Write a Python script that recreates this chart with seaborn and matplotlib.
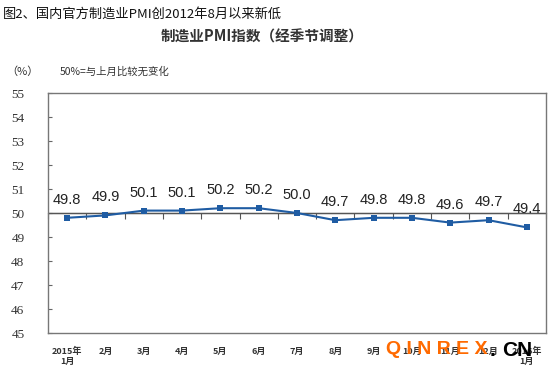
import matplotlib
matplotlib.use('Agg')
import matplotlib.pyplot as plt
import numpy as np
import pandas as pd
import seaborn as sns

months = ['2015年\n1月', '2月', '3月', '4月', '5月', '6月', '7月',
          '8月', '9月', '10月', '11月', '12月', '2016年\n1月']
pmi = [49.8, 49.9, 50.1, 50.1, 50.2, 50.2, 50.0, 49.7, 49.8, 49.8, 49.6, 49.7, 49.4]
y_ticks = [45, 46, 47, 48, 49, 50, 51, 52, 53, 54, 55]

df = pd.DataFrame({'idx': range(len(months)), 'pmi': pmi})

sns.set_style('white')
plt.rcParams['font.family'] = ['Noto Sans CJK SC', 'DejaVu Sans']
line_c = '#1f5ca3'

fig = plt.figure(figsize=(5.55, 3.72), dpi=100)
ax = fig.add_axes([48/555, 39/372, 498/555, 240/372])

sns.lineplot(data=df, x='idx', y='pmi', ax=ax, color=line_c, lw=1.5,
             marker='s', markersize=4.5, markeredgewidth=0, zorder=3)

for i, v in enumerate(pmi):
    ax.annotate(f'{v:.1f}', (i, v), xytext=(0, 14), textcoords='offset pixels',
                ha='center', va='baseline', fontsize=10.5, family='Liberation Sans',
                color='#222222')

ax.axhline(50, color='#555555', lw=1, zorder=1)
ax.set_xlim(-0.5, len(months) - 0.5)
ax.set_ylim(45, 55)
ax.set_yticks(y_ticks)
ax.set_yticklabels([str(t) for t in y_ticks], family='Liberation Serif', fontsize=9.5,
                   color='#333333')
ax.set_xticks(range(len(months)))
ax.set_xticklabels(months, fontsize=6.5, fontweight='bold', color='#333333', linespacing=1.1)
ax.tick_params(axis='x', length=0, pad=10)
ax.tick_params(axis='y', length=3, width=0.8, color='#666666', direction='in', pad=17, left=True)
ax.set_xlabel('')
ax.set_ylabel('')
for s in ax.spines.values():
    s.set_color('#777777')
    s.set_linewidth(1)

# tick marks between months on the 50 line
sec = ax.secondary_xaxis(0.5)
sec.set_xticks(np.arange(-0.5, len(months)), labels=[])
sec.tick_params(direction='in', length=4, width=0.8, color='#555555')
sec.spines['bottom'].set_visible(False)

fig.text(3/555, 1 - 14/372, '图2、国内官方制造业PMI创2012年8月以来新低', fontsize=9.5,
         va='center', ha='left', color='#111111')
fig.text(262/555, 1 - 37/372, '制造业PMI指数（经季节调整）', fontsize=10.5,
         fontweight='bold', va='center', ha='center', color='#333333')
fig.text(6/555, 1 - 72/372, '（%）', fontsize=8, va='center', ha='left', color='#333333')
fig.text(60/555, 1 - 72/372, '50%=与上月比较无变化', fontsize=7.5, va='center', ha='left',
         color='#333333')

# watermark
fig.text(386/555, 1 - 350/372, 'Q I N R E X', fontsize=14, fontweight='bold',
         family='Liberation Sans', color='#ff6a00', va='center', ha='left', zorder=5)
fig.text(490/555, 1 - 350/372, '.', fontsize=15, fontweight='bold',
         family='Liberation Sans', color='#000000', va='center', ha='left', zorder=5)
fig.text(502/555, 1 - 350/372, 'CN', fontsize=15, fontweight='bold',
         family='Liberation Sans', color='#000000', va='center', ha='left', zorder=5)

fig.savefig('out.png', dpi=100)
